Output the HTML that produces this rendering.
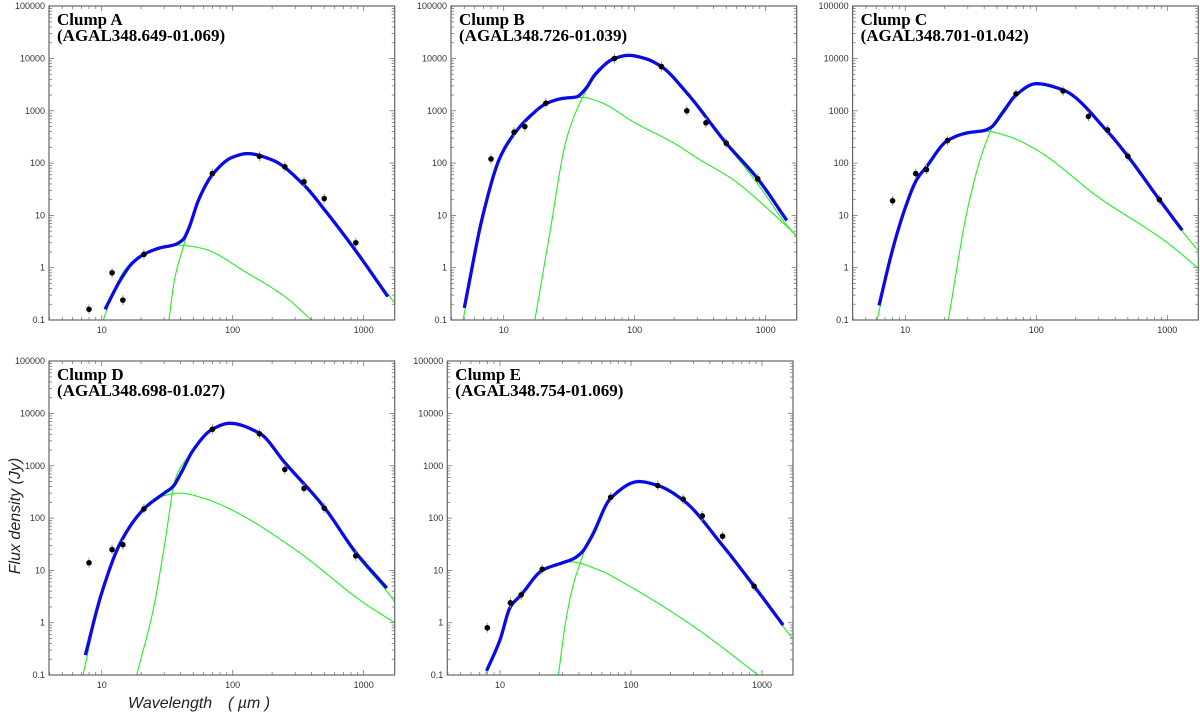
<!DOCTYPE html>
<html><head><meta charset="utf-8">
<style>
html,body{margin:0;padding:0;background:#fff;}
svg{display:block;font-family:"Liberation Sans",sans-serif;}
.tl{font-size:9px;fill:#333;}
.ttl{font-family:"Liberation Serif",serif;font-weight:bold;font-size:17px;fill:#000;}
</style></head>
<body>
<svg id="chart" width="1200" height="713" viewBox="0 0 1200 713" xmlns="http://www.w3.org/2000/svg">
<text transform="translate(20,516) rotate(-90)" text-anchor="middle" font-style="italic" font-size="16" fill="#222">Flux density  (Jy)</text>
<text x="128" y="708" font-style="italic" font-size="16" fill="#222">Wavelength</text>
<text x="228" y="708" font-style="italic" font-size="16" fill="#222">( µm )</text>
</svg>
<script>
// ---- data (wavelength µm, flux Jy) ----
const titles = ["Clump A","Clump B","Clump C","Clump D","Clump E"];
const names = ["(AGAL348.649-01.069)","(AGAL348.726-01.039)","(AGAL348.701-01.042)","(AGAL348.698-01.027)","(AGAL348.754-01.069)"];
const obsWl = [8,12,14.5,21,70,160,250,350,500,870];
const obsA = [0.16,0.8,0.24,1.8,63,135,85,44,21,3];
const obsB = [120,390,500,1400,10000,7000,1000,590,240,50];
const obsC = [19,63,75,270,2100,2400,780,430,135,20];
const obsD = [14,25,31,150,5000,4100,850,370,155,19];
const obsE = [0.8,2.4,3.4,10.5,250,420,230,110,45,5];

const blueA = [[10.6,0.16],[14,0.6],[17,1.2],[21,1.8],[28,2.4],[36,2.75],[42,3.5],[46,5.5],[55,20],[70,60],[100,130],[130,152],[200,115],[350,38],[500,13],[870,2.1],[1530,0.28]];
const hotA = [[10.3,0.1],[12,0.3],[15,0.9],[21,1.8],[30,2.6],[38,2.7],[45,2.62],[60,2.3],[128,0.8],[250,0.28],[400,0.1]];
const coldA = [[32.6,0.1],[36,0.6],[42,2.5],[46,5.5],[55,20],[70,60],[100,130],[130,150],[200,112],[350,37],[500,13],[870,2.0],[1726,0.21]];

const blueB = [[5.0,0.17],[7,11],[9.4,130],[12.2,380],[16,800],[21.4,1400],[28,1720],[36,1850],[42,2600],[50,5000],[70,10000],[90,11500],[120,10000],[160,7000],[250,2200],[500,240],[870,50],[1450,8]];
const hotB = [[4.9,0.1],[7,11],[9.4,130],[12.2,380],[21.4,1400],[30,1750],[40,1800],[55,1450],[100,590],[200,240],[316,115],[565,48],[1000,14.5],[1740,4]];
const coldB = [[17.3,0.1],[22.5,4.6],[30,275],[40,1800],[50,4500],[70,9500],[90,11000],[120,9500],[160,6700],[250,2100],[500,230],[870,40],[1450,6.5],[1740,3.9]];

const blueC = [[6.3,0.19],[8.1,2.5],[10,14],[12.2,48],[14.5,85],[21,270],[30,380],[40,420],[45,480],[55,900],[70,2000],[100,3300],[160,2500],[350,400],[500,135],[870,20],[1300,5.2]];
const hotC = [[6.1,0.1],[8.1,2.5],[10,14],[12.2,48],[14.5,85],[21,270],[30,380],[40,410],[60,330],[100,180],[300,22],[1000,3],[1700,1.0]];
const coldC = [[21.3,0.1],[30,14],[40,200],[50,700],[70,1950],[100,3200],[160,2450],[350,390],[500,130],[870,19],[1300,5],[1700,2.2]];

const blueD = [[7.5,0.24],[10,3.7],[14,35],[21,150],[30,300],[35,400],[40,700],[50,2000],[70,5000],[95,6500],[160,4200],[250,1150],[500,160],[870,22],[1500,4.6]];
const hotD = [[7.2,0.1],[10,3.7],[14,35],[21,150],[30,270],[40,300],[60,240],[100,140],[300,25],[1000,2.4],[1726,1.0]];
const coldD = [[18.5,0.1],[25,2],[30,28],[37,620],[50,1900],[70,4900],[95,6400],[160,4150],[250,1100],[500,150],[870,20],[1500,4],[1726,2.5]];

const blueE = [[7.9,0.12],[10,0.47],[12,2.0],[14.5,3.4],[21,10],[30,14],[36,16.5],[42,22],[50,44],[70,240],[115,500],[160,420],[250,220],[500,30],[870,5],[1450,0.9]];
const hotE = [[7.7,0.1],[10,0.47],[12,2.0],[14.5,3.4],[21,10],[35,14.5],[55,10.5],[100,4.8],[300,0.85],[935,0.1]];
const coldE = [[27.9,0.1],[32,1.2],[36,5],[41,14],[47,35],[55,80],[70,240],[115,495],[160,415],[250,215],[500,29],[870,4.8],[1450,0.85],[1700,0.5]];

const yTicks = [0.1,1,10,100,1000,10000,100000];
const yTickLabels = ["0.1","1","10","100","1000","10000","100000"];
const xTicks = [10,100,1000];
const xTickLabels = ["10","100","1000"];

// ---- layout ----
const panels = [
  {id:"a", x10:101.7, top:6,   obs:obsA, blue:blueA, hot:hotA, cold:coldA},
  {id:"b", x10:503.7, top:6,   obs:obsB, blue:blueB, hot:hotB, cold:coldB},
  {id:"c", x10:905.3, top:6,   obs:obsC, blue:blueC, hot:hotC, cold:coldC},
  {id:"d", x10:101.7, top:361, obs:obsD, blue:blueD, hot:hotD, cold:coldD},
  {id:"e", x10:500,   top:361, obs:obsE, blue:blueE, hot:hotE, cold:coldE}
];
const NS = "http://www.w3.org/2000/svg";
const svg = document.getElementById("chart");
const DEC_X = 131, DEC_Y = 52.3;
function mk(tag, attrs, parent){
  const e = document.createElementNS(NS, tag);
  for (const k in attrs) e.setAttribute(k, attrs[k]);
  parent.appendChild(e);
  return e;
}
// monotone cubic (Fritsch-Carlson) in log-log space, densely sampled
function smoothLog(arr, xs, ys){
  const X = arr.map(q=>Math.log10(q[0])), Y = arr.map(q=>Math.log10(q[1]));
  const n = X.length, d = [], m = new Array(n);
  for (let i=0;i<n-1;i++) d.push((Y[i+1]-Y[i])/(X[i+1]-X[i]));
  m[0]=d[0]; m[n-1]=d[n-2];
  for (let i=1;i<n-1;i++){
    if (d[i-1]*d[i]<=0) m[i]=0;
    else { const w1=2*(X[i+1]-X[i])+(X[i]-X[i-1]), w2=(X[i+1]-X[i])+2*(X[i]-X[i-1]);
      m[i]=(w1+w2)/(w1/d[i-1]+w2/d[i]); }
  }
  const pts=[];
  for (let i=0;i<n-1;i++){
    const h=X[i+1]-X[i], steps=Math.max(4,Math.ceil(h*120));
    for (let s=0;s<steps;s++){
      const t=s/steps, t2=t*t, t3=t2*t;
      const y=(2*t3-3*t2+1)*Y[i]+(t3-2*t2+t)*h*m[i]+(-2*t3+3*t2)*Y[i+1]+(t3-t2)*h*m[i+1];
      pts.push([xs(Math.pow(10,X[i]+t*h)), ys(Math.pow(10,y))]);
    }
  }
  pts.push([xs(arr[n-1][0]), ys(arr[n-1][1])]);
  return "M"+pts.map(p=>p[0].toFixed(2)+","+p[1].toFixed(2)).join("L");
}
panels.forEach((p, idx) => {
  const left = p.x10 - 52.7, right = p.x10 + 293, top = p.top, bottom = p.top + 314;
  const xs = v => p.x10 + DEC_X*(Math.log10(v) - 1);
  const ys = v => bottom - DEC_Y*(Math.log10(v) + 1);
  const g = mk("g", {}, svg);
  
  
  const clipId = "clip" + p.id;
  const cp = mk("clipPath", {id:clipId}, g);
  mk("rect", {x:left, y:top, width:right-left, height:bottom-top}, cp);
  const tk = mk("g", {stroke:"#777","stroke-width":"0.8"}, g);
  
  
  for (let e=-1;e<5;e++){
    for (let m=1;m<10;m++){
      const v = m*Math.pow(10,e); const y = ys(v); const len = m===1?5:3;
      if (y<top-0.1) continue;
      mk("line",{x1:left,x2:left+len,y1:y,y2:y},tk);
      mk("line",{x1:right,x2:right-len,y1:y,y2:y},tk);
    }
  }
  for (let e=0;e<4;e++){
    for (let m=1;m<10;m++){
      const v = m*Math.pow(10,e); const x = xs(v); const len = m===1?5:3;
      if (x<left||x>right) continue;
      mk("line",{x1:x,x2:x,y1:bottom,y2:bottom-len},tk);
      mk("line",{x1:x,x2:x,y1:top,y2:top+len},tk);
    }
  }
  yTicks.forEach((v,i)=>{
    const t = mk("text",{x:left-4,y:ys(v)+3,"text-anchor":"end",class:"tl"},g);
    
    
    t.textContent = yTickLabels[i];
  });
  xTicks.forEach((v,i)=>{
    const t = mk("text",{x:xs(v),y:bottom+13,"text-anchor":"middle",class:"tl"},g);
    
    
    t.textContent = xTickLabels[i];
  });
  const plot = mk("g",{"clip-path":"url(#"+clipId+")"},g);
  const hot = mk("path",{d:smoothLog(p.hot,xs,ys),fill:"none",stroke:"#22ee22","stroke-width":"1.1"},plot);
  
  
  const cold = mk("path",{d:smoothLog(p.cold,xs,ys),fill:"none",stroke:"#22ee22","stroke-width":"1.1"},plot);
  
  
  const blue = mk("path",{d:smoothLog(p.blue,xs,ys),fill:"none",stroke:"#0a0ae6","stroke-width":"3.3","stroke-linejoin":"round"},plot);
  
  
  p.obs.forEach((f,i)=>{
    const x = xs(obsWl[i]), y = ys(f);
    const eb = mk("line",{x1:x,x2:x,y1:y-5,y2:y+5,stroke:"#999","stroke-width":"1"},plot);
    
    
    const c = mk("circle",{cx:x,cy:y,r:2.8,fill:"#000"},plot);
    
    
  });
  const fr = mk("rect",{x:left,y:top,width:right-left,height:bottom-top,fill:"none",stroke:"#666","stroke-width":"1.2"},g);
  
  
  const t1 = mk("text",{x:left+8,y:top+19,class:"ttl"},g);
  
  
  t1.textContent = titles[idx];
  const t2 = mk("text",{x:left+8,y:top+35,class:"ttl"},g);
  
  
  t2.textContent = names[idx];
});
</script>
</body></html>
